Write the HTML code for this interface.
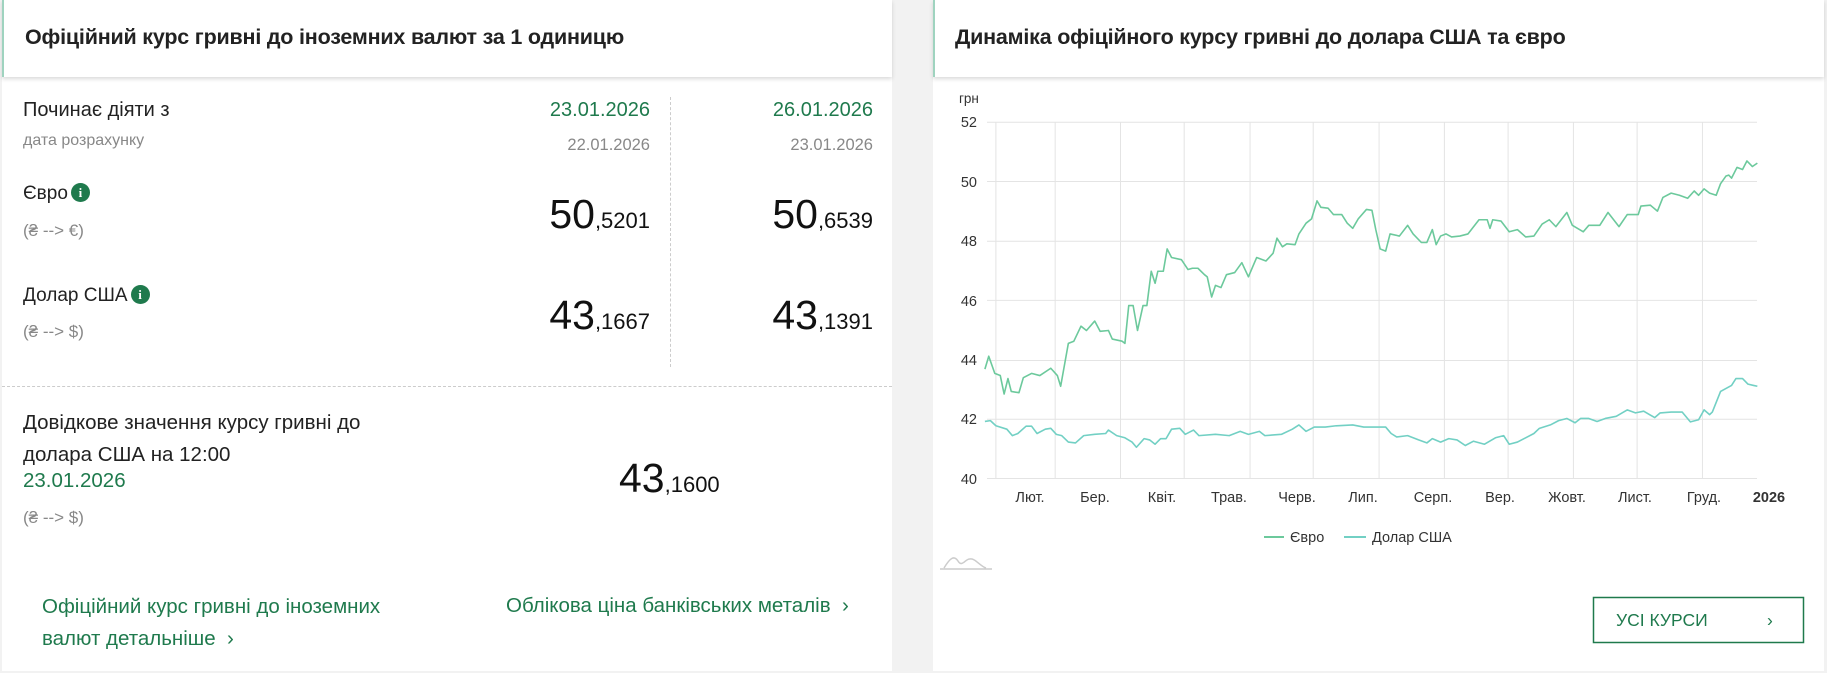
<!DOCTYPE html>
<html><head><meta charset="utf-8"><style>
*{margin:0;padding:0;box-sizing:border-box}
body{width:1827px;height:673px;background:#f2f2f2;font-family:"Liberation Sans",sans-serif;position:relative;overflow:hidden;color:#222}
.panel{position:absolute;top:0;height:671px;background:#fff}
.hdr{position:absolute;left:0;top:0;right:0;height:77px;border-left:2px solid #9fd3bf;box-shadow:0 2px 4px rgba(0,0,0,.15);background:#fff}
.hdr span{position:absolute;left:21px;top:25px;font-size:21.5px;font-weight:bold;letter-spacing:-0.2px;color:#222}
.t{position:absolute;white-space:nowrap}
.g{color:#1f7a4d}
.gr{color:#888}
.big{font-size:41px;color:#111}
.big small{font-size:22px}
.info{display:inline-block;width:19px;height:19px;border-radius:50%;background:#1f7a4d;color:#fff;font-size:13px;font-weight:bold;text-align:center;line-height:19px;vertical-align:2px;margin-left:3px;font-family:"Liberation Serif",serif}
</style></head><body>
<div class="panel" style="left:2px;width:890px">
<div class="hdr"><span>Офіційний курс гривні до іноземних валют за 1 одиницю</span></div>
<div class="t" style="left:21px;top:99px;font-size:20px">Починає діяти з</div>
<div class="t gr" style="left:21px;top:132px;font-size:16px">дата розрахунку</div>
<div class="t g" style="right:242px;top:99px;font-size:20px">23.01.2026</div>
<div class="t gr" style="right:242px;top:136px;font-size:16.5px">22.01.2026</div>
<div class="t g" style="right:19px;top:99px;font-size:20px">26.01.2026</div>
<div class="t gr" style="right:19px;top:136px;font-size:16.5px">23.01.2026</div>
<div style="position:absolute;left:668px;top:97px;height:270px;border-left:1px dashed #ccc"></div>
<div class="t" style="left:21px;top:183px;font-size:19px">Євро<span class="info">i</span></div>
<div class="t gr" style="left:21px;top:221px;font-size:17px">(₴ --&gt; €)</div>
<div class="t big" style="right:242px;top:191px">50<small>,5201</small></div>
<div class="t big" style="right:19px;top:191px">50<small>,6539</small></div>
<div class="t" style="left:21px;top:285px;font-size:19px">Долар США<span class="info">i</span></div>
<div class="t gr" style="left:21px;top:322px;font-size:17px">(₴ --&gt; $)</div>
<div class="t big" style="right:242px;top:292px">43<small>,1667</small></div>
<div class="t big" style="right:19px;top:292px">43<small>,1391</small></div>
<div style="position:absolute;left:0;right:0;top:386px;border-top:1px dashed #ccc"></div>
<div class="t" style="left:21px;top:407px;font-size:20.5px;line-height:32px">Довідкове значення курсу гривні до<br>долара США на 12:00</div>
<div class="t g" style="left:21px;top:469px;font-size:20.5px">23.01.2026</div>
<div class="t gr" style="left:21px;top:508px;font-size:17px">(₴ --&gt; $)</div>
<div class="t big" style="left:617px;top:455px">43<small>,1600</small></div>
<div class="t g" style="left:40px;top:591px;font-size:20.5px;line-height:32px">Офіційний курс гривні до іноземних<br>валют детальніше &nbsp;›</div>
<div class="t g" style="left:504px;top:594px;font-size:20.5px">Облікова ціна банківських металів &nbsp;›</div>
</div>
<div class="panel" style="left:933px;width:891px">
<div class="hdr"><span style="left:20px">Динаміка офіційного курсу гривні до долара США та євро</span></div>
</div>
<svg style="position:absolute;left:0;top:0" width="1827" height="673">
<g font-family="Liberation Sans" font-size="14.5" fill="#333">
<text x="959" y="103" font-size="13.5">грн</text>
<g text-anchor="end"><text x="977" y="127">52</text><text x="977" y="187">50</text><text x="977" y="246">48</text><text x="977" y="306">46</text><text x="977" y="365">44</text><text x="977" y="424">42</text><text x="977" y="484">40</text></g>
<g text-anchor="middle"><text x="1030" y="502">Лют.</text><text x="1095" y="502">Бер.</text><text x="1162" y="502">Квіт.</text><text x="1229" y="502">Трав.</text><text x="1297" y="502">Черв.</text><text x="1363" y="502">Лип.</text><text x="1433" y="502">Серп.</text><text x="1500" y="502">Вер.</text><text x="1567" y="502">Жовт.</text><text x="1635" y="502">Лист.</text><text x="1704" y="502">Груд.</text><text x="1769" y="502" font-weight="bold">2026</text></g>
<line x1="1264" y1="537" x2="1284" y2="537" stroke="#6cc99c" stroke-width="2"/><text x="1290" y="542">Євро</text>
<line x1="1344" y1="537" x2="1366" y2="537" stroke="#72d0c4" stroke-width="2"/><text x="1372" y="542">Долар США</text>
</g>
<g stroke="#e4e4e4" stroke-width="1">
<line x1="987" x2="1757" y1="122.3" y2="122.3"/><line x1="987" x2="1757" y1="181.5" y2="181.5"/><line x1="987" x2="1757" y1="241.2" y2="241.2"/><line x1="987" x2="1757" y1="300.4" y2="300.4"/><line x1="987" x2="1757" y1="360.5" y2="360.5"/><line x1="987" x2="1757" y1="419.3" y2="419.3"/><line x1="987" x2="1757" y1="478.5" y2="478.5"/>
<g transform="translate(930,0) scale(0.549,1)">
<path d="M120 122V478M228 122V478M347 122V478M463 122V478M583 122V478M698 122V478M818 122V478M937 122V478M1053 122V478M1172 122V478M1288 122V478M1407 122V478" vector-effect="non-scaling-stroke"/></g>
</g>
<g transform="translate(930,0) scale(0.549,0.4292)" fill="none" stroke-width="1.6" stroke-linejoin="round">
<polyline vector-effect="non-scaling-stroke" stroke="#6cc99c" points="100,860 107,830 118,870 128,875 135,918 142,882 148,912 162,915 170,880 185,870 200,875 220,858 232,875 238,900 252,800 262,795 275,760 285,770 300,748 310,772 325,770 332,790 350,795 355,800 362,712 370,712 378,770 388,712 395,712 403,632 410,660 415,632 425,632 432,580 440,600 458,605 470,628 478,625 488,625 500,640 505,645 513,692 520,665 530,670 540,640 555,635 568,612 580,645 590,615 595,600 612,608 625,590 632,555 642,575 650,568 665,570 672,545 685,520 695,510 705,468 712,483 725,485 735,500 750,500 760,520 770,532 780,510 795,488 805,490 812,535 820,580 830,585 838,545 855,550 870,525 880,545 895,565 905,565 915,535 922,570 930,550 940,545 950,552 965,550 980,545 1000,512 1015,512 1020,532 1025,512 1040,515 1055,540 1070,535 1085,552 1100,550 1115,522 1128,512 1140,528 1160,495 1170,525 1190,540 1200,525 1220,525 1235,495 1255,528 1270,500 1290,500 1295,480 1312,478 1325,492 1335,460 1350,450 1365,455 1380,462 1392,445 1400,455 1410,440 1420,450 1432,455 1440,428 1450,410 1455,408 1460,415 1470,390 1480,395 1488,375 1498,388 1507,380"/>
<polyline vector-effect="non-scaling-stroke" stroke="#72d0c4" points="100,982 110,980 120,992 140,1000 150,1015 160,1010 175,993 185,993 195,1010 210,1000 220,998 230,1012 240,1015 252,1030 265,1032 280,1015 300,1012 320,1010 325,1002 340,1015 355,1020 368,1030 376,1042 390,1022 400,1025 410,1035 420,1022 430,1022 440,1000 455,998 465,1012 480,1002 490,1015 520,1012 545,1015 565,1005 580,1012 600,1005 610,1015 640,1012 660,1000 672,990 685,1005 700,995 720,995 740,992 770,990 790,995 830,995 840,1010 850,1018 870,1015 890,1025 905,1032 915,1022 930,1030 945,1022 960,1025 975,1038 990,1028 1010,1035 1030,1020 1045,1015 1055,1035 1070,1030 1085,1020 1100,1010 1110,998 1130,990 1145,980 1160,975 1175,985 1185,975 1200,975 1215,982 1230,975 1250,970 1270,955 1285,962 1300,958 1320,973 1330,962 1350,960 1370,960 1385,983 1400,978 1410,955 1420,966 1425,960 1440,912 1450,905 1460,898 1468,882 1480,882 1490,895 1500,898 1507,900"/>
</g>
<path d="M940 569H992M944 568C950 558 954 555 958 561C962 568 966 558 970 559C975 558 980 566 986 568" fill="none" stroke="#ccc" stroke-width="1.5"/>
<rect x="1593.5" y="597.5" width="210" height="45" fill="#fff" stroke="#1f7a4d" stroke-width="1.5"/>
<text x="1616" y="626" font-family="Liberation Sans" font-size="17.5" fill="#1f7a4d">УСІ КУРСИ</text>
<text x="1767" y="626" font-family="Liberation Sans" font-size="17.5" fill="#1f7a4d">›</text>
</svg>
</body></html>
